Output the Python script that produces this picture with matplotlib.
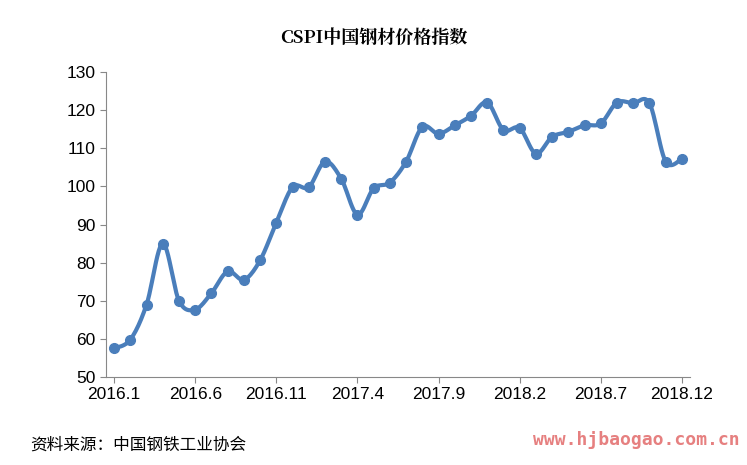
import numpy as np
import matplotlib.pyplot as plt

plt.rcParams['font.family'] = ['Liberation Sans', 'Noto Sans CJK SC', 'DejaVu Sans']

months = ['2016.1', '2016.2', '2016.3', '2016.4', '2016.5', '2016.6', '2016.7', '2016.8', '2016.9',
          '2016.10', '2016.11', '2016.12', '2017.1', '2017.2', '2017.3', '2017.4', '2017.5', '2017.6',
          '2017.7', '2017.8', '2017.9', '2017.10', '2017.11', '2017.12', '2018.1', '2018.2', '2018.3',
          '2018.4', '2018.5', '2018.6', '2018.7', '2018.8', '2018.9', '2018.10', '2018.11', '2018.12']
values = [57.5, 59.8, 69.0, 85.0, 70.0, 67.7, 72.0, 77.7, 75.5, 80.6, 90.5, 99.8,
          99.8, 106.5, 102.0, 92.6, 99.5, 101.0, 106.5, 115.6, 113.8, 116.0, 118.5, 122.0,
          114.8, 115.3, 108.6, 113.0, 114.3, 116.0, 116.5, 122.0, 121.8, 121.8, 106.5, 107.2]
tick_idx = [0, 5, 10, 15, 20, 25, 30, 35]


def smooth(x, y, n=12):
    # Catmull-Rom style smoothing for drawing only
    x = np.asarray(x, float); y = np.asarray(y, float)
    px = np.concatenate([[x[0]], x, [x[-1]]]); py = np.concatenate([[y[0]], y, [y[-1]]])
    xs, ys = [], []
    t = np.linspace(0, 1, n, endpoint=False)
    for i in range(1, len(px) - 2):
        for p, out in ((px, xs), (py, ys)):
            p0, p1, p2, p3 = p[i - 1], p[i], p[i + 1], p[i + 2]
            out.extend(0.5 * ((2 * p1) + (-p0 + p2) * t + (2 * p0 - 5 * p1 + 4 * p2 - p3) * t ** 2
                              + (-p0 + 3 * p1 - 3 * p2 + p3) * t ** 3))
    xs.append(x[-1]); ys.append(y[-1])
    return xs, ys


fig = plt.figure(figsize=(7.47, 4.65), dpi=100)
ax = fig.add_axes([106 / 747, 1 - 377 / 465, 584 / 747, 305 / 465])
x = np.arange(len(values))
sx, sy = smooth(x, values)
ax.plot(sx, sy, color='#4a7ebb', lw=3, zorder=2)
ax.plot(x, values, 'o', color='#4a7ebb', ms=7, zorder=3)

ax.set_xlim(-0.5, 35.5)
ax.set_ylim(50, 130)
ax.set_yticks(range(50, 131, 10))
ax.set_xticks(tick_idx)
ax.set_xticklabels([months[i] for i in tick_idx])
ax.tick_params(labelsize=12.5, length=4, color='#888888')
for s in ['top', 'right']:
    ax.spines[s].set_visible(False)
for s in ['left', 'bottom']:
    ax.spines[s].set_color('#888888')

fig.text(0.5, 1 - 38 / 465, 'CSPI中国钢材价格指数', ha='center', va='center', fontsize=13,
         weight='bold', family=['Noto Serif CJK SC', 'Noto Sans CJK SC', 'DejaVu Serif'])
fig.text(30 / 747, 1 - 445 / 465, '资料来源：中国钢铁工业协会', ha='left', va='center', fontsize=12,
         family=['Noto Sans CJK SC', 'DejaVu Sans'])
fig.text(740 / 747, 1 - 440 / 465, 'www.hjbaogao.com.cn', ha='right', va='center', fontsize=13,
         color='#e06060', family='DejaVu Sans Mono', weight='bold', alpha=0.8)

fig.savefig('out.png', dpi=100)
